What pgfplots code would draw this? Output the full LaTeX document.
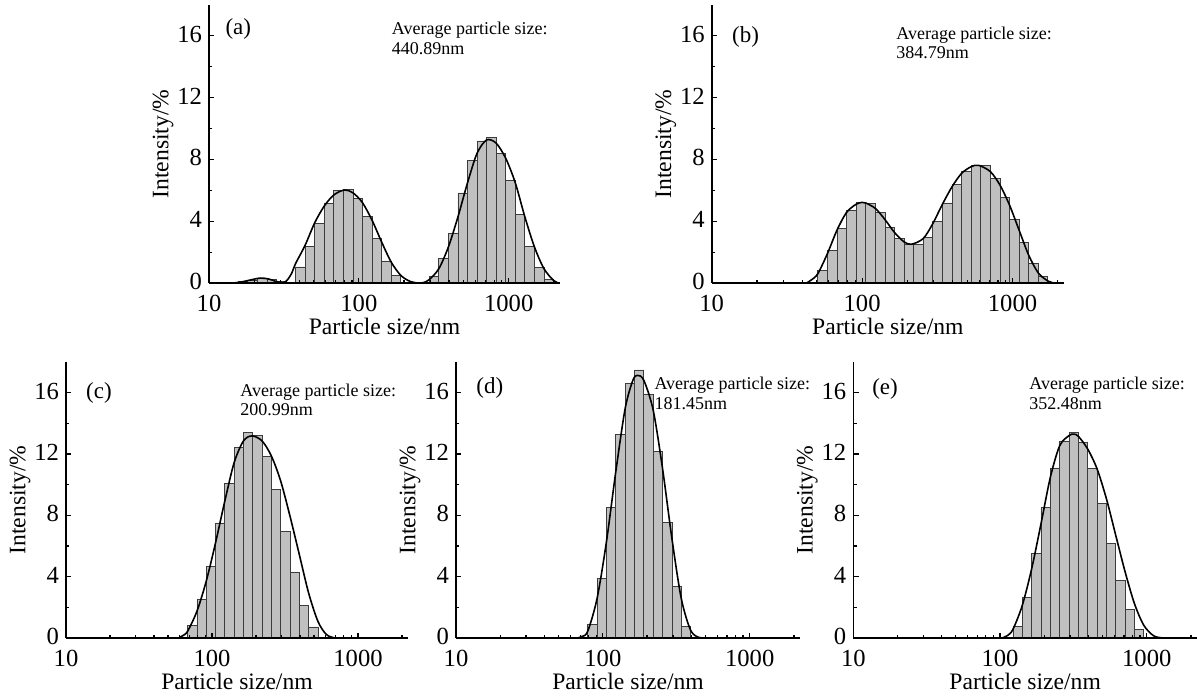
\documentclass[border=0pt]{standalone}
\usepackage{fontspec}
\setmainfont{Liberation Serif}
\usepackage{pgfplots}
\pgfplotsset{compat=1.18}

\definecolor{barfill}{RGB}{192,192,192}
\definecolor{baredge}{RGB}{60,60,60}

\pgfplotsset{
  dlspanel/.style={
    scale only axis,
    xmin=10, xmax=2200, ymin=0, ymax=18,
    axis lines=left, axis line style={-, line width=0.8pt},
    xtick={10,100,1000}, xticklabels={10,100,1000},
    minor xtick={20,30,40,50,60,70,80,90,200,300,400,500,600,700,800,900,2000},
    ytick={0,4,8,12,16}, minor ytick={2,6,10,14},
    tick align=inside,
    major tick length=2.6pt, minor tick length=1.6pt,
    tick style={black, line width=0.6pt},
    tick label style={font=\fontsize{12.3}{13}\selectfont},
    xticklabel style={yshift=-2.5pt},
    yticklabel style={yshift=0.8pt},
    label style={font=\fontsize{11.8}{13}\selectfont},
    xlabel={Particle size/nm}, ylabel={Intensity/\%},
    xlabel style={at={([yshift=-21.5pt]axis description cs:0.5,0)}, anchor=center},
    ylabel style={at={([xshift=-23pt]axis description cs:0,0.5)}, anchor=center},
    clip mode=individual, axis on top,
  },
  histbars/.style={ybar interval, fill=barfill, draw=baredge, line width=0.4pt},
  fitline/.style={smooth, black, line width=0.8pt, mark=none},
}
\newcommand{\plabel}[3]{\node[anchor=west, inner sep=0, font=\fontsize{11.5}{12}\selectfont] at (rel axis cs:#1,#2) {#3};}
\newcommand{\avg}[3]{\node[anchor=north west, align=left, inner sep=0, font=\fontsize{9}{9.8}\selectfont] at (rel axis cs:#1,#2) {Average particle size:\\#3};}

\begin{document}
\begin{tikzpicture}

% (a)
\begin{axis}[xmode=log, dlspanel, /pgf/number format/assume math mode=true,
  at={(104.5pt,206pt)}, anchor=south west, width=175.5pt, height=139pt]
\addplot[histbars] coordinates {(15.69,0.1) (18.17,0.2) (21.04,0.3) (24.36,0.25) (28.21,0.12) (32.67,0)};
\addplot[histbars] coordinates {(37.84,1.04) (43.82,2.34) (50.75,3.85) (58.77,5.15) (68.06,6.0) (78.82,6.08)
  (91.28,5.5) (105.7,4.33) (122.4,2.88) (141.8,1.43) (164.2,0.48) (190.1,0)};
\addplot[histbars] coordinates {(295.3,0.4) (342.0,1.6) (396.1,3.18) (458.7,5.83) (531.2,7.93) (615.1,9.2)
  (712.4,9.44) (825.0,8.41) (955.4,6.62) (1106,4.43) (1281,2.35) (1484,0.98) (1718,0.24) (1990,0)};
\addplot[fitline] coordinates {(14.5,0) (16.5,0.07) (19,0.2) (22,0.32) (25,0.26) (28,0.1) (31,0.02)
  (33,0.15) (35.5,0.6) (37.84,1.26) (43.82,2.45) (50.75,3.9) (58.77,4.98) (68.06,5.7) (80,6.02)
  (91.28,5.84) (105.7,5.2) (122.4,4.07) (141.8,2.66) (164.2,1.36) (190.1,0.5) (220,0.1) (250,0)
  (270,0.03) (295.3,0.22) (342,0.93) (396.1,2.34) (458.7,4.29) (531.2,6.49) (615.1,8.4) (712.4,9.26)
  (825,9.05) (955.4,8.07) (1106,6.49) (1281,4.29) (1484,2.34) (1718,0.93) (1990,0.17) (2150,0)};
\plabel{0.046}{0.912}{(a)}
\avg{0.52}{0.939}{440.89nm}
\end{axis}

% (b)
\begin{axis}[xmode=log, dlspanel, /pgf/number format/assume math mode=true,
  at={(355.85pt,206pt)}, anchor=south west, width=176.15pt, height=139pt]
\addplot[histbars] coordinates {(50.75,0.8) (58.77,2.1) (68.06,3.55) (78.82,4.7) (91.28,5.23) (105.7,5.16)
  (122.4,4.58) (141.8,3.62) (164.2,2.88) (190.1,2.5) (220.2,2.5) (255.0,2.95) (295.3,3.97) (342.0,5.18)
  (396.1,6.37) (458.7,7.23) (531.2,7.61) (615.1,7.59) (712.4,6.74) (825.0,5.55) (955.4,4.09) (1106,2.61)
  (1281,1.28) (1484,0.4) (1718,0)};
\addplot[fitline] coordinates {(42.7,0) (46,0.2) (50.75,0.6) (58.77,1.9) (68.06,3.42) (78.82,4.57)
  (91.28,5.1) (100,5.22) (105.7,5.18) (122.4,4.83) (141.8,4.11) (164.2,3.27) (190.1,2.66) (213,2.51)
  (255,2.88) (295.3,3.85) (342,5.1) (396.1,6.23) (458.7,7.1) (531.2,7.53) (595,7.62) (712.4,7.21)
  (825,6.34) (955.4,5.04) (1106,3.42) (1281,1.8) (1484,0.65) (1718,0.13) (1890,0)};
\plabel{0.057}{0.886}{(b)}
\avg{0.523}{0.924}{384.79nm}
\end{axis}

% (c)
\begin{axis}[xmode=log, dlspanel, /pgf/number format/assume math mode=true,
  at={(33pt,28.5pt)}, anchor=south west, width=171pt, height=138pt]
\addplot[histbars] coordinates {(68.06,0.8) (78.82,2.5) (91.28,4.65) (105.7,7.5) (122.4,10.1) (141.8,12.4)
  (164.2,13.4) (190.1,13.2) (220.2,11.82) (255.0,9.66) (295.3,6.92) (342.0,4.28) (396.1,2.1) (458.7,0.72)
  (531.2,0)};
\addplot[fitline] coordinates {(59,0) (63,0.15) (68.06,0.44) (78.82,1.74) (91.28,3.7) (105.7,6.2)
  (122.4,8.93) (141.8,11.44) (164.2,12.85) (188,13.18) (220.2,12.85) (255,11.87) (295.3,10.24)
  (342,7.95) (396.1,5.45) (458.7,2.94) (531.2,1.09) (608,0.22) (700,0)};
\plabel{0.058}{0.889}{(c)}
\avg{0.509}{0.923}{200.99nm}
\end{axis}

% (d)
\begin{axis}[xmode=log, dlspanel, /pgf/number format/assume math mode=true,
  at={(228pt,28.5pt)}, anchor=south west, width=172pt, height=138pt]
\addplot[histbars] coordinates {(78.82,0.87) (91.28,3.89) (105.7,8.52) (122.4,13.27) (141.8,16.59)
  (164.2,17.48) (190.1,15.88) (220.2,12.15) (255.0,7.52) (295.3,3.37) (342.0,0.76) (396.1,0)};
\addplot[fitline] coordinates {(67,0) (72,0.1) (78.82,0.43) (91.28,2.57) (105.7,6.26) (122.4,10.83)
  (141.8,14.96) (160,16.8) (172,17.13) (190.1,16.8) (220.2,14.85) (255,11.04) (295.3,6.48) (342,2.57)
  (396.1,0.5) (450,0.04) (490,0)};
\plabel{0.058}{0.907}{(d)}
\avg{0.576}{0.947}{181.45nm}
\end{axis}

% (e)
\begin{axis}[xmode=log, dlspanel, /pgf/number format/assume math mode=true,
  at={(426.65pt,28.5pt)}, anchor=south west, width=171.85pt, height=138pt]
\addplot[histbars] coordinates {(122.4,0.78) (141.8,2.67) (164.2,5.49) (190.1,8.52) (220.2,11.09)
  (255.0,12.85) (295.3,13.41) (342.0,12.75) (396.1,11.08) (458.7,8.76) (531.2,6.19) (615.1,3.75)
  (712.4,1.87) (825.0,0.58) (955.4,0)};
\addplot[fitline] coordinates {(103,0) (112,0.15) (122.4,0.56) (141.8,2.13) (164.2,4.51) (190.1,7.44)
  (220.2,10.48) (255,12.54) (295.3,13.2) (318,13.3) (342,13.15) (396.1,12.32) (458.7,11.02)
  (531.2,9.07) (615.1,6.68) (712.4,4.3) (825,2.23) (955.4,0.82) (1120,0.13) (1310,0)};
\plabel{0.054}{0.904}{(e)}
\avg{0.511}{0.947}{352.48nm}
\end{axis}

\pgfresetboundingbox
\path[use as bounding box] (0,0) rectangle (598.5pt,347.5pt);
\end{tikzpicture}
\end{document}
